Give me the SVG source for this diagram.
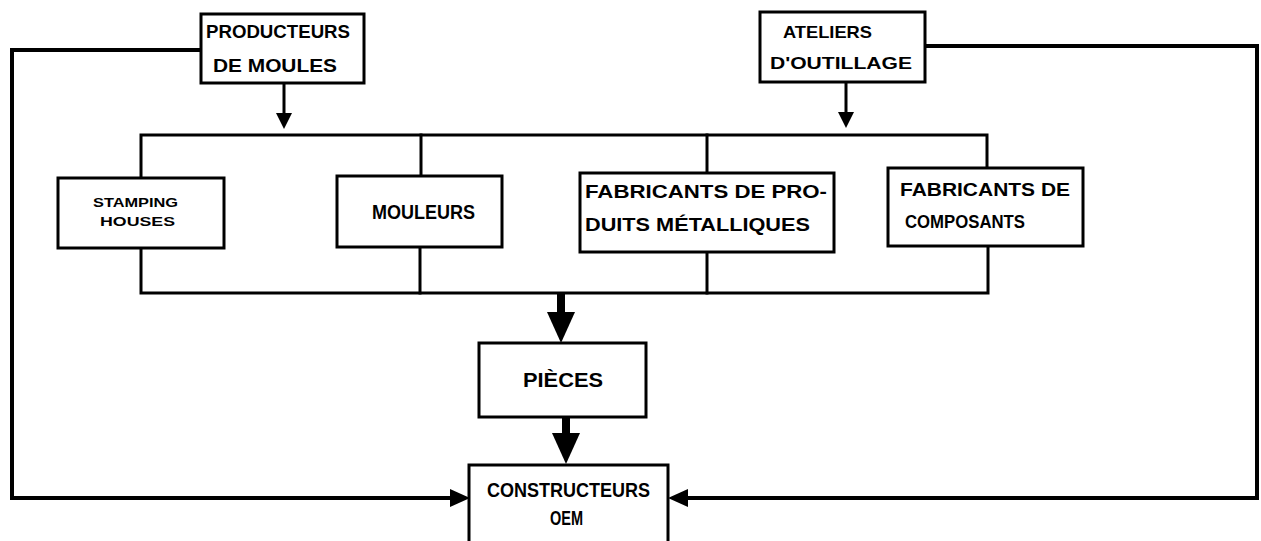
<svg xmlns="http://www.w3.org/2000/svg" width="1261" height="541" viewBox="0 0 1261 541">
<style>
.box{fill:#fff;stroke:#000;stroke-width:3}
.ln{fill:none;stroke:#000;stroke-width:3;stroke-linecap:square}
.lp{fill:none;stroke:#000;stroke-width:4}
.th{fill:none;stroke:#000;stroke-width:8}
.t{font-family:"Liberation Sans",Arial,sans-serif;font-weight:bold;fill:#000}
.hd{fill:#000}
</style>
<rect width="1261" height="541" fill="#fff"/>
<g id="connectors">
  <!-- left feedback loop -->
  <polyline class="lp" points="201,50 12,50 12,498 452,498"/>
  <polygon class="hd" points="470,498 450,489 450,507"/>
  <!-- right feedback loop -->
  <polyline class="lp" points="925,46 1257,46 1257,498 686,498"/>
  <polygon class="hd" points="668,498 688,489 688,507"/>
  <!-- arrows from top suppliers -->
  <line class="ln" x1="284" y1="83" x2="284" y2="114"/>
  <polygon class="hd" points="284,129 276,113 292,113"/>
  <line class="ln" x1="846" y1="82" x2="846" y2="113"/>
  <polygon class="hd" points="846,128 838,112 854,112"/>
  <!-- top bus -->
  <polyline class="ln" points="141,178 141,135 987,135 987,168"/>
  <line class="ln" x1="421" y1="135" x2="421" y2="176"/>
  <line class="ln" x1="707" y1="135" x2="707" y2="173"/>
  <!-- bottom bus -->
  <polyline class="ln" points="141,248 141,293 988,293 988,246"/>
  <line class="ln" x1="420" y1="247" x2="420" y2="293"/>
  <line class="ln" x1="707" y1="252" x2="707" y2="293"/>
  <!-- bus to pieces -->
  <line class="th" x1="561" y1="293" x2="561" y2="314"/>
  <polygon class="hd" points="561,343 547,312 575,312"/>
  <!-- pieces to constructeurs -->
  <line class="th" x1="566" y1="417" x2="566" y2="435"/>
  <polygon class="hd" points="566,464 552,433 580,433"/>
</g>
<g id="producteurs">
  <rect class="box" x="201" y="14" width="163" height="69"/>
  <text class="t" x="206" y="38" font-size="18" textLength="144" lengthAdjust="spacingAndGlyphs">PRODUCTEURS</text>
  <text class="t" x="213" y="72" font-size="18" textLength="124" lengthAdjust="spacingAndGlyphs">DE MOULES</text>
</g>
<g id="ateliers">
  <rect class="box" x="760" y="12" width="165" height="70"/>
  <text class="t" x="783" y="38" font-size="17" textLength="89" lengthAdjust="spacingAndGlyphs">ATELIERS</text>
  <text class="t" x="770" y="69" font-size="17" textLength="142" lengthAdjust="spacingAndGlyphs">D'OUTILLAGE</text>
</g>
<g id="stamping">
  <rect class="box" x="58" y="178" width="166" height="70"/>
  <text class="t" x="93" y="207" font-size="13" textLength="85" lengthAdjust="spacingAndGlyphs">STAMPING</text>
  <text class="t" x="100" y="226" font-size="13" textLength="75" lengthAdjust="spacingAndGlyphs">HOUSES</text>
</g>
<g id="mouleurs">
  <rect class="box" x="337" y="176" width="165" height="71"/>
  <text class="t" x="372" y="219" font-size="20" textLength="103" lengthAdjust="spacingAndGlyphs">MOULEURS</text>
</g>
<g id="fabricants-metal">
  <rect class="box" x="580" y="173" width="254" height="79"/>
  <text class="t" x="585" y="198" font-size="19" textLength="242" lengthAdjust="spacingAndGlyphs">FABRICANTS DE PRO-</text>
  <text class="t" x="585" y="231" font-size="19" textLength="225" lengthAdjust="spacingAndGlyphs">DUITS MÉTALLIQUES</text>
</g>
<g id="fabricants-composants">
  <rect class="box" x="888" y="168" width="195" height="78"/>
  <text class="t" x="900" y="196" font-size="19" textLength="170" lengthAdjust="spacingAndGlyphs">FABRICANTS DE</text>
  <text class="t" x="905" y="228" font-size="19" textLength="120" lengthAdjust="spacingAndGlyphs">COMPOSANTS</text>
</g>
<g id="pieces">
  <rect class="box" x="479" y="343" width="167" height="74"/>
  <text class="t" x="523" y="387" font-size="20" textLength="80" lengthAdjust="spacingAndGlyphs">PIÈCES</text>
</g>
<g id="constructeurs">
  <rect class="box" x="469" y="465" width="199" height="80"/>
  <text class="t" x="487" y="497" font-size="20" textLength="163" lengthAdjust="spacingAndGlyphs">CONSTRUCTEURS</text>
  <text class="t" x="550" y="525" font-size="20" textLength="33" lengthAdjust="spacingAndGlyphs">OEM</text>
</g>
</svg>
